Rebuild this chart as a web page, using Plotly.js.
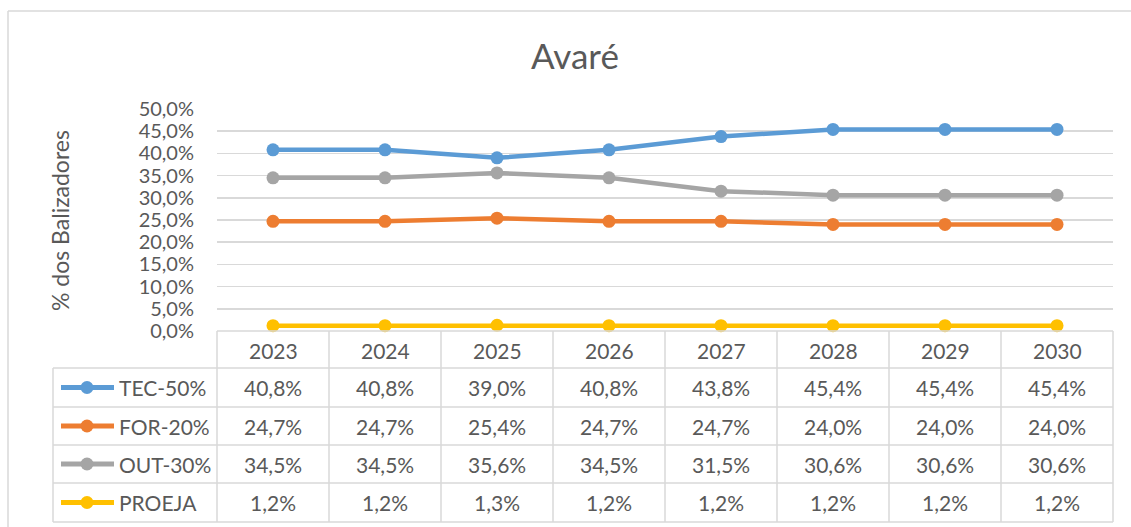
<!DOCTYPE html>
<html>
<head>
<meta charset="utf-8">
<script src="https://cdn.plot.ly/plotly-3.0.1.min.js"></script>
<style>html,body{margin:0;padding:0;background:#fff;}#chart{width:1131px;height:527px;}</style>
</head>
<body>
<div id="chart"></div>
<script>
const years = ['2023','2024','2025','2026','2027','2028','2029','2030'];
const seriesNames = ['TEC-50%','FOR-20%','OUT-30%','PROEJA'];
const tec = [40.8,40.8,39.0,40.8,43.8,45.4,45.4,45.4];
const forv = [24.7,24.7,25.4,24.7,24.7,24.0,24.0,24.0];
const out = [34.5,34.5,35.6,34.5,31.5,30.6,30.6,30.6];
const proeja = [1.2,1.2,1.3,1.2,1.2,1.2,1.2,1.2];
const colors = ['#5B9BD5','#ED7D31','#A5A5A5','#FFC000'];
const chartTitle = 'Avaré';
const yTitle = '% dos Balizadores';

const W = 1131, H = 527;
const L = 217, R = 1113, T = 109, B = 331;
const px = x => (x - L) / (R - L);
const py = y => (B - y) / (B - T);
const grid = '#D9D9D9';
const txt = '#595959';
const font = 'Lato, "Open Sans", sans-serif';

const allSeries = [tec, forv, out, proeja];
const xIdx = years.map((_, i) => i);

const traces = allSeries.map((s, k) => ({
  type: 'scatter', mode: 'lines+markers', x: xIdx, y: s, name: seriesNames[k],
  line: {color: colors[k], width: 4.5}, marker: {color: colors[k], size: 13},
  showlegend: false, cliponaxis: false, hoverinfo: 'skip'
}));

const fmt = v => v.toFixed(1).replace('.', ',') + '%';

const shapes = [];
const annotations = [];
shapes.push({type:'line', xref:'paper', yref:'paper', x0:px(8), x1:px(1131), y0:py(11), y1:py(11), line:{color:grid, width:1.5}});
shapes.push({type:'line', xref:'paper', yref:'paper', x0:px(8), x1:px(8), y0:py(11), y1:py(527), line:{color:grid, width:1.5}});

const rowLines = [368, 407, 445, 483, 522];
const tableLeft = 53;
const colW = (R - L) / years.length;
shapes.push({type:'line', xref:'paper', yref:'paper', x0:px(L), x1:px(R), y0:py(B), y1:py(B), line:{color:grid, width:1.5}});
rowLines.forEach(y => shapes.push({type:'line', xref:'paper', yref:'paper', x0:px(tableLeft), x1:px(R), y0:py(y), y1:py(y), line:{color:grid, width:1.5}}));
for (let i = 0; i <= years.length; i++) {
  const x = L + i * colW;
  shapes.push({type:'line', xref:'paper', yref:'paper', x0:px(x), x1:px(x), y0:py(B), y1:py(522), line:{color:grid, width:1.5}});
}
shapes.push({type:'line', xref:'paper', yref:'paper', x0:px(tableLeft), x1:px(tableLeft), y0:py(368), y1:py(522), line:{color:grid, width:1.5}});

const cellSize = 21;
years.forEach((yr, i) => annotations.push({xref:'x', yref:'paper', x:i, y:py(350), text:yr, showarrow:false, xanchor:'center', yanchor:'middle', font:{family:font, size:cellSize, color:txt}}));

allSeries.forEach((s, k) => {
  const yc = (rowLines[k] + rowLines[k+1]) / 2;
  shapes.push({type:'line', xref:'paper', yref:'paper', x0:px(61), x1:px(114), y0:py(yc), y1:py(yc), line:{color:colors[k], width:5}});
  shapes.push({type:'circle', xref:'paper', yref:'paper', x0:px(87-6.5), x1:px(87+6.5), y0:py(yc-6.5), y1:py(yc+6.5), fillcolor:colors[k], line:{color:colors[k], width:0}});
  annotations.push({xref:'paper', yref:'paper', x:px(117), y:py(yc), text:seriesNames[k], showarrow:false, xanchor:'left', yanchor:'middle', font:{family:font, size:cellSize, color:txt}});
  s.forEach((v, i) => annotations.push({xref:'x', yref:'paper', x:i, y:py(yc), text:fmt(v), showarrow:false, xanchor:'center', yanchor:'middle', font:{family:font, size:cellSize, color:txt}}));
});

annotations.push({xref:'paper', yref:'paper', x:px(60), y:py(221), text:yTitle, textangle:-90, showarrow:false, xanchor:'center', yanchor:'middle', font:{family:font, size:23, color:txt}});
annotations.push({xref:'paper', yref:'paper', x:px(575), y:py(55), text:chartTitle, showarrow:false, xanchor:'center', yanchor:'middle', font:{family:font, size:35, color:txt}});

const layout = {
  width: W, height: H,
  margin: {l: L, r: W - R, t: T, b: H - B, pad: 0},
  paper_bgcolor: '#fff', plot_bgcolor: '#fff',
  separators: ',.',
  xaxis: {range: [-0.5, years.length - 0.5], showgrid: false, zeroline: false, showticklabels: false, showline: false, fixedrange: true},
  yaxis: {range: [0, 50], dtick: 5, tick0: 0, tickformat: '.1f', ticksuffix: '%', showgrid: true, gridcolor: grid, gridwidth: 1.5, zeroline: false, showline: false, ticks: '', ticklabelstandoff: 22, tickfont: {family: font, size: 20, color: txt}, fixedrange: true},
  shapes: shapes, annotations: annotations, showlegend: false
};

Plotly.newPlot('chart', traces, layout, {displayModeBar: false, staticPlot: true});
</script>
</body>
</html>
